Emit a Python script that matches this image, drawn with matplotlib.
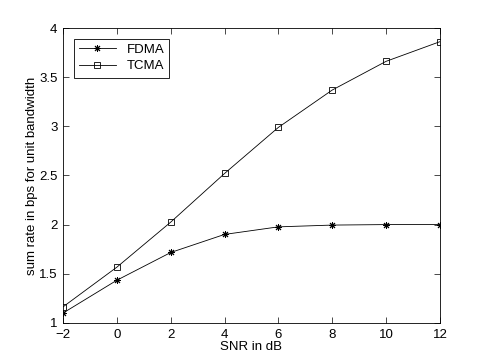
import matplotlib
matplotlib.use("Agg")
import matplotlib.pyplot as plt

plt.rcParams['font.family'] = ['Liberation Sans', 'DejaVu Sans']

snr = [-2, 0, 2, 4, 6, 8, 10, 12]
fdma = [1.10, 1.434, 1.716, 1.90, 1.977, 1.995, 2.0, 2.0]
tcma = [1.163, 1.567, 2.025, 2.52, 2.989, 3.369, 3.661, 3.861]

fig = plt.figure(figsize=(4.85, 3.64), dpi=100)
ax = fig.add_axes([0.13, 0.113, 0.777, 0.81])

# asterisk marker like matlab's '*'
ax.plot(snr, fdma, color='k', linewidth=0.6, marker=(8, 2, 0), markersize=5,
        markeredgewidth=0.7, label='FDMA')
ax.plot(snr, tcma, color='k', linewidth=0.6, marker='s', markersize=5,
        markerfacecolor='none', markeredgewidth=0.6, label='TCMA')

ax.set_xlim(-2, 12)
ax.set_ylim(1, 4)
ax.set_xticks(snr)
ax.set_yticks([1, 1.5, 2, 2.5, 3, 3.5, 4])
ax.set_yticklabels(['1', '1.5', '2', '2.5', '3', '3.5', '4'])
ax.tick_params(direction='in', top=True, right=True, labelsize=9.5, length=4, width=0.5)
ax.tick_params(axis='x', pad=4.5)
ax.tick_params(axis='y', pad=4)
for s in ax.spines.values():
    s.set_linewidth(0.6)

ax.set_xlabel('SNR in dB', fontsize=9.5, labelpad=0)
ax.set_ylabel('sum rate in bps for unit bandwidth', fontsize=9.5, labelpad=0.5)

leg = ax.legend(loc='upper left', fontsize=9.5, fancybox=False, edgecolor='k',
                borderaxespad=0.8, handlelength=2.8, framealpha=1,
                borderpad=0.4, labelspacing=0.3)
leg.get_frame().set_linewidth(0.6)

fig.savefig('out.png', dpi=100)
